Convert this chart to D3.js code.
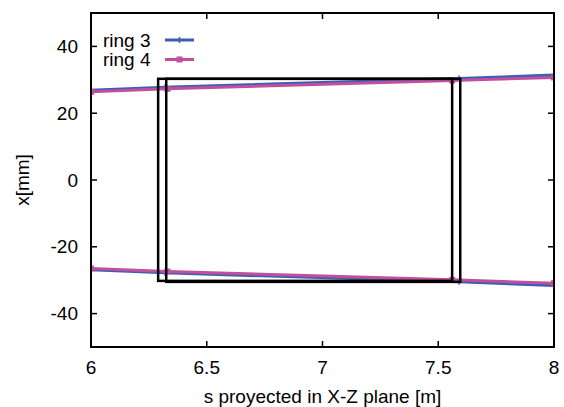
<!DOCTYPE html>
<html>
<head>
<meta charset="utf-8">
<script src="https://cdn.jsdelivr.net/npm/d3@7"></script>
<style>
  body { margin: 0; background: #fff; }
  text { font-family: "Liberation Sans", Arial, sans-serif; }
</style>
</head>
<body>
<div id="chart-container"></div>
<script>
// Data.
const xTicks = [6, 6.5, 7, 7.5, 8];
const yTicks = [-40, -20, 0, 20, 40];

const ring3S = [6.0, 6.32, 7.59, 8.0];
const ring3Upper = [26.9, 27.8, 30.4, 31.4];
const ring3Lower = [-26.9, -27.8, -30.5, -31.6];

const ring4S = [6.0, 6.33, 7.56, 8.0];
const ring4Upper = [26.4, 27.3, 29.8, 30.7];
const ring4Lower = [-26.5, -27.4, -29.9, -30.9];

// Aperture boxes: [s start, s end, x bottom, x top]
const boxes = [
    [6.29, 7.56, -30.2, 30.3],
    [6.325, 7.595, -30.5, 30.3]
];

const width = 564, height = 407;
const margin = { top: 13, right: 10, bottom: 60, left: 91 };
const w = width - margin.left - margin.right;
const h = height - margin.top - margin.bottom;
const fontSize = "19px";

const svg = d3.select("#chart-container")
    .append("svg")
    .attr("width", width)
    .attr("height", height);

const g = svg.append("g")
    .attr("transform", "translate(" + margin.left + "," + margin.top + ")");

const x = d3.scaleLinear().domain([6, 8]).range([0, w]);
const y = d3.scaleLinear().domain([-50, 50]).range([h, 0]);

svg.append("defs").append("clipPath").attr("id", "clip")
    .append("rect").attr("width", w).attr("height", h);

// Tick marks (inside, mirrored) and labels.
const tickLen = 6;
xTicks.forEach((t) => {
    g.append("line").attr("x1", x(t)).attr("x2", x(t))
        .attr("y1", h).attr("y2", h - tickLen).attr("stroke", "#000").attr("stroke-width", 1.5);
    g.append("line").attr("x1", x(t)).attr("x2", x(t))
        .attr("y1", 0).attr("y2", tickLen).attr("stroke", "#000").attr("stroke-width", 1.5);
    g.append("text").attr("x", x(t)).attr("y", h + 14).attr("dy", "0.71em")
        .attr("text-anchor", "middle").style("font-size", fontSize).text(t);
});
yTicks.forEach((t) => {
    g.append("line").attr("x1", 0).attr("x2", tickLen)
        .attr("y1", y(t)).attr("y2", y(t)).attr("stroke", "#000").attr("stroke-width", 1.5);
    g.append("line").attr("x1", w).attr("x2", w - tickLen)
        .attr("y1", y(t)).attr("y2", y(t)).attr("stroke", "#000").attr("stroke-width", 1.5);
    g.append("text").attr("x", -13).attr("y", y(t)).attr("dy", "0.35em")
        .attr("text-anchor", "end").style("font-size", fontSize).text(t);
});

// Axis titles.
svg.append("text")
    .attr("x", margin.left + w / 2).attr("y", 403)
    .attr("text-anchor", "middle").style("font-size", fontSize)
    .text("s proyected in X-Z plane [m]");
svg.append("text")
    .attr("transform", "translate(29," + (margin.top + y(0)) + ") rotate(-90)")
    .attr("text-anchor", "middle").style("font-size", fontSize)
    .text("x[mm]");

const plot = g.append("g").attr("clip-path", "url(#clip)");

const series = [
    { name: "ring 3", color: "#3c5db4", s: ring3S, lines: [ring3Upper, ring3Lower], marker: "plus" },
    { name: "ring 4", color: "#c04f9e", s: ring4S, lines: [ring4Upper, ring4Lower], marker: "square" }
];

const line = d3.line().x((d) => x(d[0])).y((d) => y(d[1]));

function drawMarker(sel, type, cx, cy, color) {
    if (type === "plus") {
        sel.append("path")
            .attr("d", `M${cx - 3},${cy}H${cx + 3}M${cx},${cy - 3}V${cy + 3}`)
            .attr("stroke", color).attr("stroke-width", 1.5);
    } else {
        sel.append("rect").attr("x", cx - 3).attr("y", cy - 3)
            .attr("width", 6).attr("height", 6).attr("fill", color);
    }
}

series.forEach((sr) => {
    sr.lines.forEach((vals) => {
        const pts = sr.s.map((s, i) => [s, vals[i]]);
        plot.append("path").datum(pts)
            .attr("fill", "none").attr("stroke", sr.color).attr("stroke-width", 3)
            .attr("d", line);
        pts.forEach((p) => drawMarker(plot, sr.marker, x(p[0]), y(p[1]), sr.color));
    });
});

// Boxes.
boxes.forEach((b) => {
    plot.append("rect")
        .attr("x", x(b[0])).attr("y", y(b[3]))
        .attr("width", x(b[1]) - x(b[0])).attr("height", y(b[2]) - y(b[3]))
        .attr("fill", "none").attr("stroke", "#000").attr("stroke-width", 2.5);
});

// Frame.
g.append("rect").attr("width", w).attr("height", h)
    .attr("fill", "none").attr("stroke", "#000").attr("stroke-width", 2);

// Legend.
series.forEach((sr, i) => {
    const ly = 40 + i * 19.5 - margin.top;
    g.append("text").attr("x", 12).attr("y", ly).attr("dy", "0.35em")
        .style("font-size", fontSize).text(sr.name);
    g.append("line").attr("x1", 74).attr("x2", 103).attr("y1", ly).attr("y2", ly)
        .attr("stroke", sr.color).attr("stroke-width", 3);
    drawMarker(g, sr.marker, 88.5, ly, sr.color);
});
</script>
</body>
</html>
